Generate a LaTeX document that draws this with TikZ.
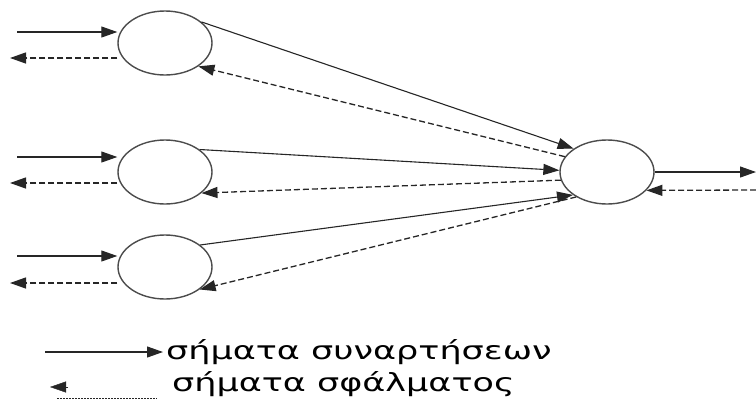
\documentclass[tikz,border=0pt]{standalone}
\usepackage{fontspec}
\setmainfont{DejaVu Sans}
\newfontfamily\legendfont[FakeStretch=1.4]{DejaVu Sans}
\usepackage{tikz}
\usetikzlibrary{shapes.geometric,arrows.meta}

\begin{document}
\begin{tikzpicture}[x=1pt, y=-1pt, >={Triangle[length=16pt,width=11pt]},
			neuron/.style={ellipse, draw=black!70, line width=1.4pt, minimum width=94pt, minimum height=64pt, inner sep=0pt},
			sig/.style={->, black!85, line width=1.1pt},
			err/.style={->, black!85, line width=1.3pt, dash pattern=on 6pt off 3pt},
			legend/.style={anchor=west, inner sep=0pt, font=\legendfont\fontsize{25}{29}\selectfont}]
			\useasboundingbox (0,0) rectangle (756,400);

			\node[neuron] (n1) at (165,43) {};
			\node[neuron] (n2) at (165,172) {};
			\node[neuron] (n3) at (165,267) {};
			\node[neuron] (out) at (607,172) {};

			\coordinate (a1) at (17,32);
			\coordinate (b1) at (10,58);
			\coordinate (a2) at (17,157);
			\coordinate (b2) at (10,183);
			\coordinate (a3) at (17,256);
			\coordinate (b3) at (10,283);
			\coordinate (oa) at (756,172);
			\coordinate (ob) at (756,190);

			% inputs
			\draw[sig] (a1) -- (a1 -| n1.west);
			\draw[err] (n1.west |- b1) -- (b1);
			\draw[sig] (a2) -- (a2 -| n2.west);
			\draw[err] (n2.west |- b2) -- (b2);
			\draw[sig] (a3) -- (a3 -| n3.west);
			\draw[err] (n3.west |- b3) -- (b3);

			% to the output neuron and back
			\draw[sig] (n1.30) -- (out.145);
			\draw[err] (out.160) -- (n1.325);
			\draw[sig] (n2.33) -- (out.178);
			\draw[err] (out.190) -- (n2.330);
			\draw[sig] (n3.32) -- (out.214);
			\draw[err] (out.219) -- (n3.327);

			\draw[sig] (out.east) -- (oa);
			\draw[err] (ob) -- (out.335);

			% legend
			\coordinate (l1) at (45,352);
			\coordinate (l2) at (163,352);
			\draw[sig] (l1) -- (l2);
			\node[legend] (t1) at (166,352) {σήματα συναρτήσεων};
			\coordinate (l3) at (68,387);
			\coordinate (l4) at (50,387);
			\draw[->, black!85] (l3) -- (l4);
			\coordinate (l5) at (57,398);
			\coordinate (l6) at (157,398);
			\draw[black!85, dash pattern=on 1.5pt off 1.5pt] (l5) -- (l6);
			\node[legend] (t2) at (172,384) {σήματα σφάλματος};
		\end{tikzpicture}
\end{document}
